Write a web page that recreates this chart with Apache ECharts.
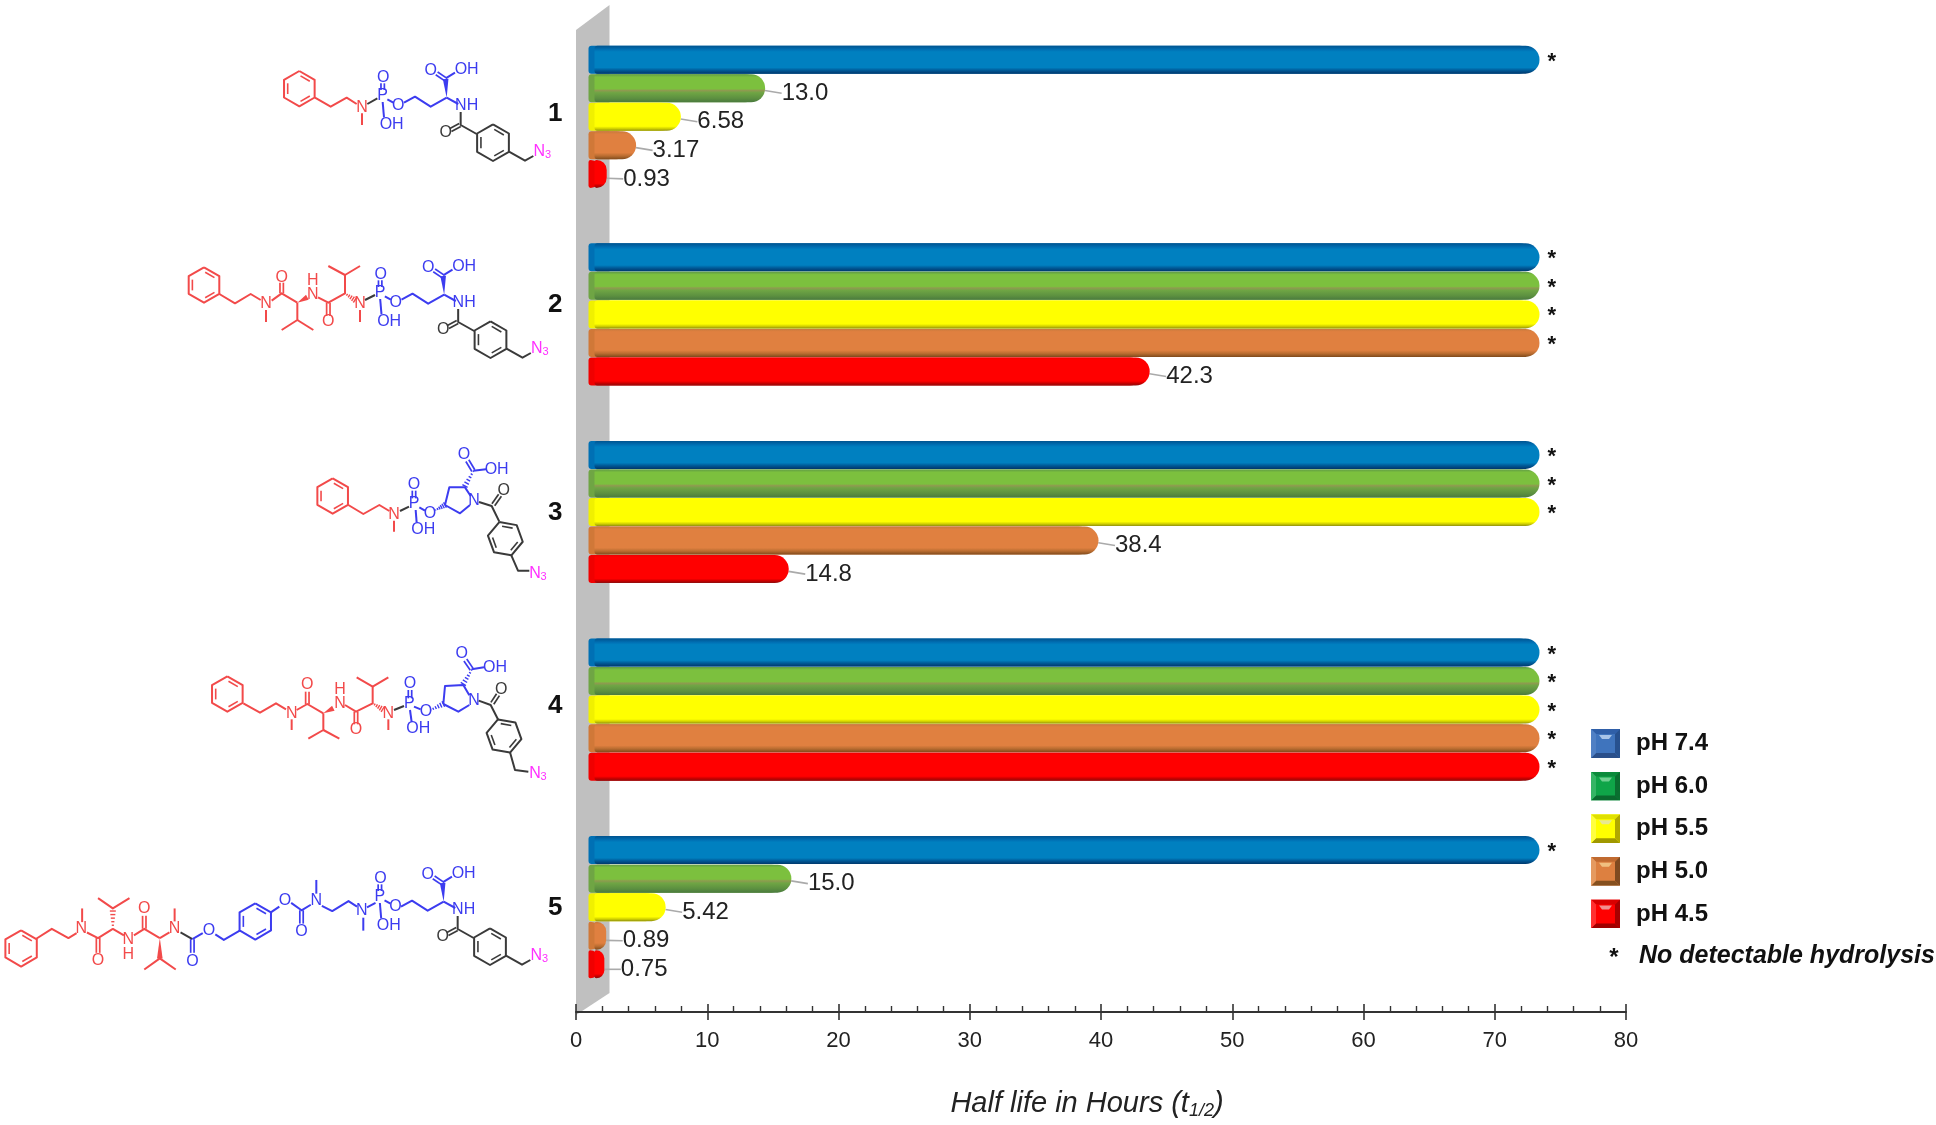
<!DOCTYPE html>
<html>
<head>
<meta charset="utf-8">
<style>html,body{margin:0;padding:0;background:#fff}#c{width:1936px;height:1125px}</style>
<script src="https://cdn.jsdelivr.net/npm/echarts@6/dist/echarts.min.js"></script>
</head>
<body>
<div id="c"></div>
<script>
// ---- data ----
const categories = ['1', '2', '3', '4', '5'];
const seriesNames = ['pH 7.4', 'pH 6.0', 'pH 5.5', 'pH 5.0', 'pH 4.5'];
// bars marked * (no detectable hydrolysis) are drawn to the length they have in the picture
const ph74 = [72.0, 72.0, 72.0, 72.0, 72.0];
const ph60 = [13.0, 72.0, 72.0, 72.0, 15.0];
const ph55 = [6.58, 72.0, 72.0, 72.0, 5.42];
const ph50 = [3.17, 72.0, 38.4, 72.0, 0.89];
const ph45 = [0.93, 42.3, 14.8, 72.0, 0.75];
const labels74 = ['*', '*', '*', '*', '*'];
const labels60 = ['13.0', '*', '*', '*', '15.0'];
const labels55 = ['6.58', '*', '*', '*', '5.42'];
const labels50 = ['3.17', '*', '38.4', '*', '0.89'];
const labels45 = ['0.93', '42.3', '14.8', '*', '0.75'];
const xTicks = {min: 0, max: 80, interval: 10};
const axisTitle = 'Half life in Hours (t';
const axisTitleSub = '1/2';
const footnote = 'No detectable hydrolysis';

const FONT = '"Liberation Sans", Arial, sans-serif';
const grad = (stops) => ({type: 'linear', x: 0, y: 0, x2: 0, y2: 1,
  colorStops: stops.map(s => ({offset: s[0], color: s[1]}))});
const barFills = [
  grad([[0,'#00538f'],[.14,'#0070b4'],[.22,'#0080c0'],[.78,'#0080c0'],[.88,'#005a98'],[1,'#00386c']]),
  grad([[0,'#5f9a45'],[.1,'#7cc03e'],[.52,'#7cc03e'],[.58,'#8f9a50'],[.66,'#6fa544'],[.86,'#5c9040'],[1,'#4a7a3e']]),
  grad([[0,'#ffff00'],[.84,'#ffff00'],[.93,'#cccc00'],[1,'#8f8f10']]),
  grad([[0,'#c87a3c'],[.1,'#e08040'],[.76,'#e08040'],[.88,'#b86c30'],[1,'#7f4a1c']]),
  grad([[0,'#f00000'],[.08,'#ff0000'],[.84,'#ff0000'],[.93,'#c00000'],[1,'#8a1010']])
];
const barEdge = ['#0070b4', '#6fa544', '#f0f000', '#d07838', '#f00000'];
const values = [ph74, ph60, ph55, ph50, ph45];
const texts = [labels74, labels60, labels55, labels50, labels45];

// bevelled legend swatches
function bevel(c, top, right, bottom, left, light) {
  const s = `<svg xmlns="http://www.w3.org/2000/svg" width="29" height="29">` +
    `<rect width="29" height="29" fill="${c}"/>` +
    `<polygon points="0,0 29,0 24,5 5,5" fill="${top}"/>` +
    `<polygon points="29,0 29,29 24,24 24,5" fill="${right}"/>` +
    `<polygon points="0,29 29,29 24,24 5,24" fill="${bottom}"/>` +
    `<polygon points="0,0 0,29 5,24 5,5" fill="${left}"/>` +
    `<polygon points="8,6 21,6 18,10 11,10" fill="${light}"/></svg>`;
  return 'image://data:image/svg+xml;charset=utf-8,' + encodeURIComponent(s);
}
const legendIcons = [
  bevel('#3f74bd','#2f5fa8','#27518f','#2a4f8a','#5080c4','#a8c4e8'),
  bevel('#0fa548','#0b8a3b','#0a6f30','#0a6a2e','#35b565','#70d090'),
  bevel('#ffff00','#e0e000','#b0a800','#a09800','#ffff40','#e8e890'),
  bevel('#dd8040','#c06a30','#7f4a20','#85501f','#e59a60','#f0c080'),
  bevel('#ff0000','#d80000','#a80000','#a00000','#ff3030','#f09090')
];

// ---- chemical structures (illustration) ----
const gfx = [];
const RED = '#f24a4a', BLUE = '#3c3cf0', DARK = '#3a3a3a', MAG = '#ff30ff';
function M(ox, oy, s) {
  const P = (p) => [ox + p[0] / s, oy + p[1] / s];
  const api = {
    line(col, pts, w) {
      gfx.push({type: 'polyline', shape: {points: pts.map(P)}, silent: true,
        style: {stroke: col, lineWidth: w || 2, fill: null, lineJoin: 'round'}});
      return api;
    },
    dbl(col, a, b) {
      const A = P(a), B = P(b), dx = B[0] - A[0], dy = B[1] - A[1], L = Math.hypot(dx, dy);
      const nx = -dy / L * 1.7, ny = dx / L * 1.7;
      [1, -1].forEach(k => gfx.push({type: 'line', silent: true,
        shape: {x1: A[0] + k * nx, y1: A[1] + k * ny, x2: B[0] + k * nx, y2: B[1] + k * ny},
        style: {stroke: col, lineWidth: 1.7}}));
      return api;
    },
    wedge(col, a, b) {
      const A = P(a), B = P(b), dx = B[0] - A[0], dy = B[1] - A[1], L = Math.hypot(dx, dy);
      const nx = -dy / L * 2.8, ny = dx / L * 2.8;
      gfx.push({type: 'polygon', silent: true,
        shape: {points: [A, [B[0] + nx, B[1] + ny], [B[0] - nx, B[1] - ny]]}, style: {fill: col}});
      return api;
    },
    hash(col, a, b) {
      const A = P(a), B = P(b), dx = B[0] - A[0], dy = B[1] - A[1], L = Math.hypot(dx, dy);
      const nx = -dy / L, ny = dx / L, n = 5;
      for (let i = 0; i <= n; i++) {
        const t = i / n, w = 0.6 + 2.4 * t, x = A[0] + dx * t, y = A[1] + dy * t;
        gfx.push({type: 'line', silent: true,
          shape: {x1: x + nx * w, y1: y + ny * w, x2: x - nx * w, y2: y - ny * w},
          style: {stroke: col, lineWidth: 1.4}});
      }
      return api;
    },
    text(col, t, p, size) {
      const Q = P(p);
      gfx.push({type: 'text', silent: true, x: Q[0], y: Q[1],
        style: {text: t, fill: col, font: (size || 16) + 'px ' + FONT, align: 'center', verticalAlign: 'middle'}});
      return api;
    },
    ring(col, c, r, a0) {
      const v = [];
      for (let i = 0; i < 6; i++) {
        const a = (a0 + i * 60) * Math.PI / 180;
        v.push([c[0] + r * Math.cos(a), c[1] + r * Math.sin(a)]);
      }
      api.line(col, v.concat([v[0]]));
      [0, 2, 4].forEach(i => {
        const p = v[i], q = v[(i + 1) % 6], k = 0.76;
        const sh = (u) => [c[0] + (u[0] - c[0]) * k, c[1] + (u[1] - c[1]) * k];
        const a = sh(p), b = sh(q), d = [(b[0] - a[0]) * .1, (b[1] - a[1]) * .1];
        api.line(col, [[a[0] + d[0], a[1] + d[1]], [b[0] - d[0], b[1] - d[1]]], 1.6);
      });
      return api;
    },
    n3(p) { api.text(MAG, 'N', p, 16); api.text(MAG, '3', [p[0] + 26, p[1] + 10], 11); return api; }
  };
  return api;
}
// phosphoramidate part, coordinates taken with P at mol-1 position
function phosphate(m) {
  m.text(BLUE, 'P', [608, 198]).text(BLUE, 'O', [610, 142]).text(BLUE, 'O', [655, 228]).text(BLUE, 'OH', [635, 285]);
  m.dbl(BLUE, [608, 160], [608, 180]);
  m.line(BLUE, [[608, 216], [612, 262]]);
  m.line(BLUE, [[622, 208], [640, 218]]);
}
function tail(m) {
  m.line(BLUE, [[672, 218], [705, 200], [752, 230], [800, 203]]);
  m.wedge(BLUE, [800, 203], [797, 147]);
  m.dbl(BLUE, [795, 147], [770, 130]);
  m.line(BLUE, [[797, 145], [825, 128]]);
  m.text(BLUE, 'O', [752, 122]).text(BLUE, 'OH', [860, 120]).text(BLUE, 'NH', [860, 228]);
  m.line(BLUE, [[800, 203], [835, 222]]);
  m.line(DARK, [[842, 246], [842, 285], [890, 312]]);
  m.dbl(DARK, [840, 285], [812, 300]);
  m.text(DARK, 'O', [797, 308]);
  m.ring(DARK, [939, 338], 55, -90);
  m.line(DARK, [[987, 365], [1035, 392], [1060, 378]]);
  m.n3([1078, 365]);
}
// molecule 1
(() => {
  const m = M(180, 30, 3);
  m.ring(RED, [358, 176], 53, -90);
  m.line(RED, [[405, 203], [452, 230], [500, 203], [530, 222]]);
  m.text(RED, 'N', [546, 233]).line(RED, [[546, 250], [546, 285]]);
  m.line(DARK, [[562, 222], [592, 205]]);
  phosphate(m); tail(m);
})();
// molecule 2
(() => {
  const m = M(180, 30, 3);
  m.ring(RED, [72, 765], 53, -90);
  m.line(RED, [[118, 792], [165, 820], [212, 792], [242, 810]]);
  m.text(RED, 'N', [258, 822]).line(RED, [[258, 840], [258, 876]]);
  m.line(RED, [[275, 812], [305, 790], [352, 818]]);
  m.dbl(RED, [305, 790], [305, 758]).text(RED, 'O', [305, 742]);
  m.wedge(RED, [352, 818], [382, 802]);
  m.text(RED, 'N', [398, 795]).text(RED, 'H', [398, 752]);
  m.line(RED, [[352, 818], [352, 870], [305, 900]]).line(RED, [[352, 870], [400, 900]]);
  m.line(RED, [[414, 802], [445, 818], [495, 790], [495, 735], [445, 708]]).line(RED, [[495, 735], [540, 708]]);
  m.dbl(RED, [445, 818], [445, 858]).text(RED, 'O', [445, 875]);
  m.hash(RED, [495, 790], [525, 810]);
  m.text(RED, 'N', [540, 822]).line(RED, [[540, 840], [540, 876]]);
  m.line(DARK, [[555, 810], [585, 795]]);
  const b = M(177.5, 227, 3);
  phosphate(b); tail(b);
})();
// proline variants
function proline(m, q) {
  m.hash(BLUE, q.o, q.r[0]);
  m.line(BLUE, [q.r[0], q.r[1], q.r[2], q.r[3]]);
  m.line(BLUE, [q.r[4], q.r[5], q.r[0]]);
  m.text(BLUE, 'N', q.n);
}
// molecule 3
(() => {
  const m = M(290, 430, 3);
  m.ring(RED, [128, 198], 53, -90);
  m.line(RED, [[175, 225], [220, 252], [268, 225], [298, 243]]);
  m.text(RED, 'N', [312, 255]).line(RED, [[312, 272], [312, 305]]);
  m.line(DARK, [[330, 243], [357, 230]]);
  m.text(BLUE, 'P', [372, 222]).text(BLUE, 'O', [372, 163]).text(BLUE, 'O', [420, 250]).text(BLUE, 'OH', [400, 300]);
  m.dbl(BLUE, [372, 182], [372, 205]);
  m.line(BLUE, [[377, 240], [380, 278]]).line(BLUE, [[388, 232], [405, 242]]);
  proline(m, {o: [437, 240], r: [[465, 225], [478, 172], [525, 172], [542, 198], [540, 225], [510, 250]], n: [552, 212]});
  m.hash(BLUE, [550, 124], [525, 168]);
  m.dbl(BLUE, [550, 122], [532, 92]).text(BLUE, 'O', [522, 75]);
  m.line(BLUE, [[550, 122], [588, 118]]).text(BLUE, 'OH', [620, 118]);
  m.line(DARK, [[567, 216], [605, 228], [628, 275]]);
  m.dbl(DARK, [610, 224], [630, 196]).text(DARK, 'O', [641, 181]);
  m.ring(DARK, [646, 326], 53, -110);
  m.line(DARK, [[664, 376], [684, 422], [718, 422]]);
  m.n3([735, 432]);
})();
// molecule 4
(() => {
  const m = M(200, 630, 3);
  m.ring(RED, [82, 192], 53, -90);
  m.line(RED, [[130, 220], [180, 248], [228, 220], [258, 238]]);
  m.text(RED, 'N', [275, 250]).line(RED, [[275, 268], [275, 300]]);
  m.line(RED, [[290, 240], [322, 222], [370, 250]]);
  m.dbl(RED, [322, 222], [322, 185]).text(RED, 'O', [322, 165]);
  m.wedge(RED, [370, 250], [400, 235]);
  m.text(RED, 'N', [420, 222]).text(RED, 'H', [420, 180]);
  m.line(RED, [[370, 250], [370, 300], [325, 326]]).line(RED, [[370, 300], [418, 326]]);
  m.line(RED, [[435, 225], [468, 245], [518, 220], [518, 170], [470, 142]]).line(RED, [[518, 170], [565, 142]]);
  m.dbl(RED, [468, 245], [468, 283]).text(RED, 'O', [468, 300]);
  m.hash(RED, [518, 220], [548, 238]);
  m.text(RED, 'N', [565, 250]).line(RED, [[565, 268], [565, 300]]);
  m.line(DARK, [[582, 240], [612, 228]]);
  m.text(BLUE, 'P', [628, 222]).text(BLUE, 'O', [630, 160]).text(BLUE, 'O', [678, 245]).text(BLUE, 'OH', [655, 295]);
  m.dbl(BLUE, [630, 180], [630, 205]);
  m.line(BLUE, [[630, 240], [635, 276]]).line(BLUE, [[642, 230], [662, 238]]);
  proline(m, {o: [692, 240], r: [[730, 222], [735, 168], [790, 165], [808, 196], [808, 225], [775, 245]], n: [822, 212]});
  m.hash(BLUE, [815, 120], [790, 162]);
  m.dbl(BLUE, [815, 118], [796, 90]).text(BLUE, 'O', [785, 72]);
  m.line(BLUE, [[815, 118], [852, 112]]).text(BLUE, 'OH', [885, 112]);
  m.line(DARK, [[836, 212], [872, 225], [895, 270]]);
  m.dbl(DARK, [877, 220], [894, 194]).text(DARK, 'O', [904, 180]);
  m.ring(DARK, [912, 318], 53, -110);
  m.line(DARK, [[930, 367], [945, 420], [985, 425]]);
  m.n3([1005, 430]);
})();
// molecule 5
(() => {
  const m = M(0, 840, 2.703);
  m.ring(RED, [57, 293], 49, -90);
  m.line(RED, [[98, 267], [140, 240], [185, 265], [207, 252]]);
  m.text(RED, 'N', [220, 240]).line(RED, [[222, 222], [222, 185]]);
  m.line(RED, [[235, 250], [265, 265], [305, 240]]);
  m.dbl(RED, [265, 265], [265, 305]).text(RED, 'O', [265, 325]);
  m.hash(RED, [305, 240], [305, 192]);
  m.line(RED, [[265, 157], [305, 185], [350, 157]]);
  m.line(RED, [[305, 240], [335, 258]]);
  m.text(RED, 'N', [347, 268]).text(RED, 'H', [347, 310]);
  m.line(RED, [[362, 258], [390, 240], [432, 265]]);
  m.dbl(RED, [390, 240], [390, 205]).text(RED, 'O', [390, 185]);
  m.wedge(RED, [432, 265], [432, 320]);
  m.line(RED, [[390, 350], [432, 320], [475, 350]]);
  m.line(RED, [[432, 265], [458, 250]]);
  m.text(RED, 'N', [472, 240]).line(RED, [[472, 220], [472, 185]]);
  m.line(DARK, [[488, 250], [520, 268]]);
  m.dbl(BLUE, [520, 268], [520, 305]).text(BLUE, 'O', [520, 328]);
  m.line(BLUE, [[520, 268], [548, 252]]).text(BLUE, 'O', [565, 245]);
  m.line(BLUE, [[582, 255], [605, 270], [648, 245]]);
  m.ring(BLUE, [690, 220], 49, -90);
  m.line(BLUE, [[733, 195], [755, 180]]).text(BLUE, 'O', [770, 165]);
  m.line(BLUE, [[787, 170], [815, 190], [840, 175]]);
  m.dbl(BLUE, [815, 190], [815, 226]).text(BLUE, 'O', [815, 248]);
  m.text(BLUE, 'N', [855, 165]).line(BLUE, [[855, 145], [855, 108]]);
  m.line(BLUE, [[870, 178], [898, 192], [942, 165], [965, 180]]);
  m.text(BLUE, 'N', [978, 192]).line(BLUE, [[982, 210], [982, 245]]);
  m.line(BLUE, [[992, 182], [1015, 170]]);
  phosphate(M(177.2, 831, 3));
  tail(M(177, 834, 3));
})();

// grey wall behind the bars, footnote
gfx.unshift({type: 'polygon', silent: true, z: 0,
  shape: {points: [[576, 30], [609.5, 5], [609.5, 993], [576, 1015]]}, style: {fill: '#c0c0c0'}});
gfx.push({type: 'text', silent: true, x: 1614, y: 958,
  style: {text: '*', fill: '#111', font: 'bold 24px ' + FONT, align: 'center', verticalAlign: 'middle'}});
gfx.push({type: 'text', silent: true, x: 1639, y: 956,
  style: {text: footnote, fill: '#111', font: 'italic bold 25px ' + FONT, align: 'left', verticalAlign: 'middle'}});

const barSeries = seriesNames.map((name, si) => ({
  name, type: 'bar', xAxisIndex: 2, yAxisIndex: 1, barWidth: 28, barGap: '2%', z: 3,
  itemStyle: {color: barFills[si], borderWidth: 0, borderRadius: [3, 14, 14, 3],
    shadowBlur: 0, shadowOffsetX: -6, shadowColor: barEdge[si]},
  label: {show: true, position: 'right', distance: 4, color: '#222', fontFamily: FONT, fontSize: 24,
    rich: {t: {fontFamily: FONT, fontSize: 24, color: '#222', padding: [10, 0, 0, 0]}}},
  labelLayout: (p) => texts[si][p.dataIndex] === '*' ? {dx: 4, dy: 2} : {dx: 12.5},
  data: values[si].map((v, i) => {
    const star = texts[si][i] === '*';
    return {
      value: v,
      label: star
        ? {formatter: '*', fontSize: 22, fontWeight: 'bold', color: '#111'}
        : {formatter: `{t|${texts[si][i]}}`},
      labelLine: {show: !star, lineStyle: {color: '#aaaaaa', width: 1.6}}
    };
  })
}));

const numStyle = (bottom, top) => ({fontFamily: FONT, fontSize: 26, fontWeight: 'bold', color: '#111', padding: [top, 0, bottom, 0]});

const chart = echarts.init(document.getElementById('c'), null, {width: 1936, height: 1125});
chart.setOption({
  animation: false,
  backgroundColor: '#ffffff',
  textStyle: {fontFamily: FONT},
  grid: [
    {left: 576, width: 1050, top: 18, height: 1001},
    {left: 594.5, width: 1050, top: 18, height: 988}
  ],
  legend: {
    show: true, orient: 'vertical', left: 1591, top: 729, padding: 0,
    itemWidth: 29, itemHeight: 29, itemGap: 13.6, selectedMode: false,
    textStyle: {fontFamily: FONT, fontSize: 24, fontWeight: 'bold', color: '#111', padding: [0, 0, 0, 11]},
    data: seriesNames.map((n, i) => ({name: n, icon: legendIcons[i]}))
  },
  xAxis: [
    {
      gridIndex: 0, type: 'value', position: 'bottom', min: xTicks.min, max: xTicks.max, interval: xTicks.interval,
      axisLine: {show: true, lineStyle: {color: '#333', width: 2}},
      axisTick: {show: true, length: 8, lineStyle: {color: '#333', width: 1.6}},
      axisLabel: {margin: 18, fontFamily: FONT, fontSize: 22, color: '#222'},
      splitLine: {show: false},
      name: `{a|${axisTitle}}{s|${axisTitleSub}}{a|)}`,
      nameLocation: 'middle', nameGap: 76,
      nameTextStyle: {padding: [0, 28, 0, 0], rich: {
        a: {fontFamily: FONT, fontStyle: 'italic', fontSize: 29, color: '#222'},
        s: {fontFamily: FONT, fontStyle: 'italic', fontSize: 18, color: '#222', padding: [14, 0, 0, 0]}
      }}
    },
    {
      gridIndex: 0, type: 'value', position: 'bottom', min: xTicks.min, max: xTicks.max, interval: xTicks.interval,
      axisLine: {show: false},
      axisTick: {show: true, inside: true, length: 8, lineStyle: {color: '#333', width: 1.6}},
      minorTick: {show: true, splitNumber: 5, length: 6, lineStyle: {color: '#333', width: 1.4}},
      axisLabel: {show: false}, splitLine: {show: false}, minorSplitLine: {show: false}
    },
    {gridIndex: 1, type: 'value', min: xTicks.min, max: xTicks.max, show: false, splitLine: {show: false}}
  ],
  yAxis: [
    {gridIndex: 0, type: 'value', show: false, min: 0, max: 1},
    {
      gridIndex: 1, type: 'category', inverse: true,
      data: categories,
      axisLine: {show: false}, axisTick: {show: false},
      axisLabel: {margin: 32, fontFamily: FONT, fontSize: 26, fontWeight: 'bold', color: '#111',
        formatter: (v) => `{n${v}|${v}}`,
        rich: {n1: numStyle(5, 0), n2: numStyle(20, 0), n3: numStyle(0, 2), n4: numStyle(8, 0), n5: numStyle(0, 2)}}
    }
  ],
  series: barSeries,
  graphic: {elements: gfx}
});
</script>
</body>
</html>
